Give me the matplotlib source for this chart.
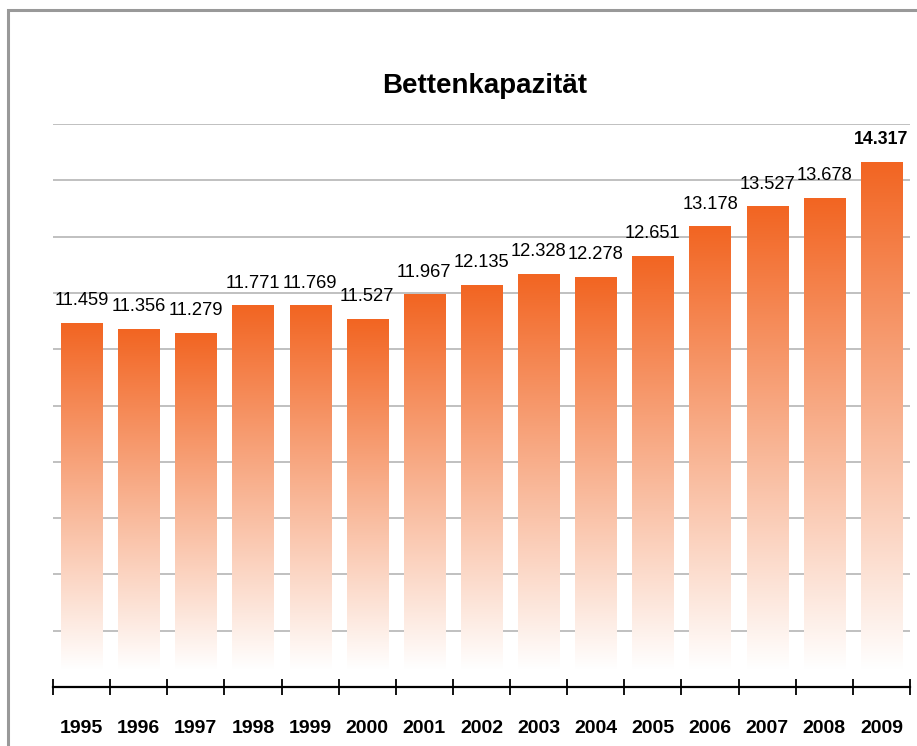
import numpy as np
import matplotlib
matplotlib.use('Agg')
import matplotlib.pyplot as plt
from matplotlib.patches import Rectangle
from matplotlib.colors import to_rgb

years = ['1995', '1996', '1997', '1998', '1999', '2000', '2001', '2002',
         '2003', '2004', '2005', '2006', '2007', '2008', '2009']
beds = [11.459, 11.356, 11.279, 11.771, 11.769, 11.527, 11.967, 12.135,
        12.328, 12.278, 12.651, 13.178, 13.527, 13.678, 14.317]
labels = ['11.459', '11.356', '11.279', '11.771', '11.769', '11.527', '11.967', '12.135',
          '12.328', '12.278', '12.651', '13.178', '13.527', '13.678', '14.317']

SANS = ['Liberation Sans', 'DejaVu Sans']
plt.rcParams['font.family'] = SANS

fig = plt.figure(figsize=(9.17, 7.46), dpi=100)
ax = fig.add_axes([53 / 917, 1 - 687 / 746, 857 / 917, 563 / 746])

# gray frame of the chart area
fig.add_artist(Rectangle((8 / 917, -0.1), 1.2, 1 - 10 / 746 + 0.1, transform=fig.transFigure,
                         fill=False, edgecolor='#999999', linewidth=2.2))

top_col = np.array(to_rgb('#f26522'))
grad = np.linspace(0, 1, 256)[:, None]
bar_w = 0.72
base = 5.3

for i, v in enumerate(beds):
    img = top_col[None, None, :] * (1 - grad[:, :, None]) + np.ones(3) * grad[:, :, None]
    ax.imshow(img, extent=(i - bar_w / 2, i + bar_w / 2, base, v), origin='upper',
              aspect='auto', zorder=2, interpolation='bilinear')
    bold = i == len(beds) - 1
    ax.annotate(labels[i], (i, v), xytext=(0, 13), textcoords='offset points',
                ha='center', va='baseline', fontsize=13.2 if not bold else 12.8,
                fontweight='bold' if bold else 'normal', zorder=3)

ax.set_xlim(-0.5, len(years) - 0.5)
ax.set_ylim(5, 15)

for g in range(6, 16):
    ax.axhline(g, color='#c0c0c0', linewidth=1.4, zorder=1)

for s in ['left', 'right', 'top']:
    ax.spines[s].set_visible(False)
ax.spines['bottom'].set_linewidth(1.6)
ax.spines['bottom'].set_zorder(4)

ax.set_yticks([])
ax.set_xticks(np.arange(-0.5, len(years), 1.0))
ax.set_xticklabels([])
ax.tick_params(axis='x', which='major', direction='inout', length=12, width=1.3)
ax.set_xticks(np.arange(len(years)), minor=True)
ax.set_xticklabels(years, minor=True, fontsize=14, fontweight='bold')
ax.tick_params(axis='x', which='minor', length=0, pad=23.5)

fig.text(485 / 917, 1 - 93 / 746, 'Bettenkapazität', ha='center', va='baseline',
         fontsize=20, fontweight='bold')

fig.savefig('out.png', dpi=100)
